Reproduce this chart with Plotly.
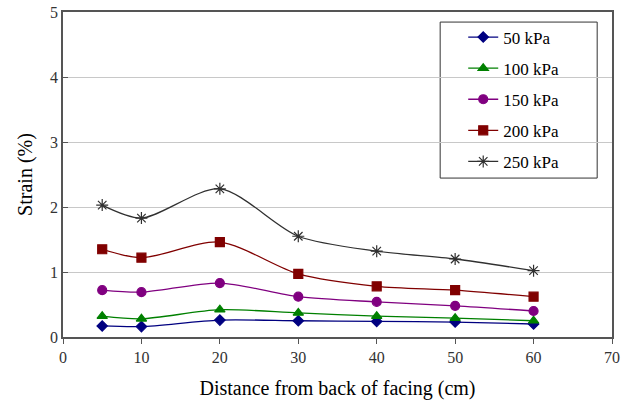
import plotly.graph_objects as go

distance = [5, 10, 20, 30, 40, 50, 60]
s50 = [0.17, 0.16, 0.26, 0.25, 0.24, 0.23, 0.20]
s100 = [0.32, 0.28, 0.42, 0.37, 0.32, 0.29, 0.25]
s150 = [0.72, 0.69, 0.83, 0.62, 0.54, 0.48, 0.40]
s200 = [1.35, 1.22, 1.46, 0.97, 0.78, 0.72, 0.62]
s250 = [2.03, 1.83, 2.28, 1.55, 1.32, 1.20, 1.02]

series = [
    ("50 kPa", s50, "#000080", "diamond", 8),
    ("100 kPa", s100, "#008000", "triangle-up", 9),
    ("150 kPa", s150, "#800080", "circle", 9),
    ("200 kPa", s200, "#800000", "square", 9),
    ("250 kPa", s250, "#303030", "asterisk-open", 10),
]

fig = go.Figure()
for name, vals, color, sym, size in series:
    fig.add_trace(go.Scatter(
        x=distance, y=vals, name=name, mode="lines+markers", legendgroup=name,
        line=dict(color=color, width=1.3, shape="spline", smoothing=0.8),
        marker=dict(symbol=sym, size=size, color=color,
                    line=dict(color=color, width=1.2)),
    ))

font = "Liberation Serif, Times New Roman, serif"
# legend frame
fig.add_shape(type="rect", xref="paper", yref="paper",
              x0=0.687, x1=0.973, y0=0.489, y1=0.969,
              line=dict(color="#333333", width=1), fillcolor="white",
              layer="below")
fig.update_layout(
    width=622, height=408,
    margin=dict(l=63, r=10, t=12, b=71, autoexpand=False),
    paper_bgcolor="white", plot_bgcolor="white",
    font=dict(family=font, size=16, color="black"),
    showlegend=True,
    legend=dict(x=0.729, y=0.977, xanchor="left", yanchor="top",
                borderwidth=0, bgcolor="rgba(0,0,0,0)",
                font=dict(family=font, size=17), tracegroupgap=6,
                itemwidth=30),
    xaxis=dict(range=[0, 70], dtick=10, showgrid=False, automargin=False,
               ticks="outside", ticklen=5, tickcolor="#555555",
               showline=True, linecolor="#555555", linewidth=1.5, mirror=True,
               zeroline=False,
               title=dict(text="Distance from back of facing (cm)",
                          font=dict(family=font, size=20), standoff=16),
               tickfont=dict(family=font, size=16, color="#333333")),
    yaxis=dict(range=[0, 5], dtick=1, showgrid=True, gridcolor="#c8c8c8",
               automargin=False, layer="below traces",
               ticks="inside", ticklen=5, tickcolor="#555555",
               showline=True, linecolor="#555555", linewidth=1.5, mirror=True,
               zeroline=False,
               title=dict(text="Strain (%)", font=dict(family=font, size=20),
                          standoff=12),
               tickfont=dict(family=font, size=16, color="#333333")),
)

fig.write_html("out.html")
